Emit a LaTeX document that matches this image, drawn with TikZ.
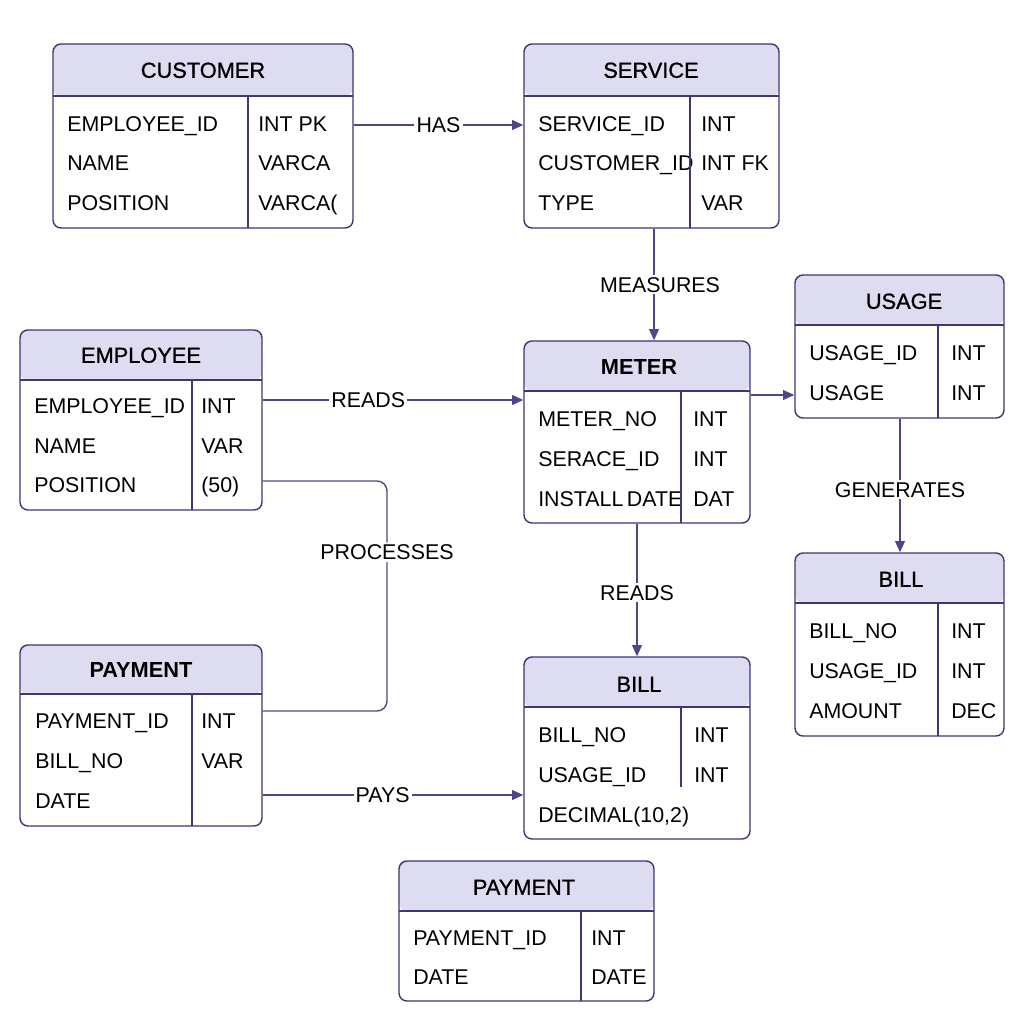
\documentclass[tikz,border=0pt]{standalone}
\usepackage{fontspec}
\setmainfont{Liberation Sans}
\newfontfamily\titlefont{Liberation Sans}[FakeBold=1.0]
\usetikzlibrary{
arrows.meta,
fit,
positioning
}
\definecolor{erline}{HTML}{3E3772}
\definecolor{erhead}{HTML}{DEDCF1}
\definecolor{erconn}{HTML}{4E4787}
\tikzset{
er_text/.style={inner sep=0pt, text height=10.9pt, text depth=0pt, font=\fontsize{15.2}{18}\selectfont},
er_field/.style={er_text, anchor=west}
}

\begin{document}
\begin{tikzpicture}
[x=0.025cm, y=-0.025cm,
table_box/.style={draw=erline, line width=1pt, fill=white, rounded corners=0.2cm, inner sep=0pt,
  path picture={\fill[erhead] (path picture bounding box.north west) rectangle ([yshift=-#1]path picture bounding box.north east);}},
table_line/.style={draw=erline, line width=1pt},
er_title/.style={inner sep=0pt, text height=11.1pt, text depth=0pt, font=\titlefont\fontsize{15.5}{18}\selectfont},
er_title_bold/.style={er_title, font=\bfseries\fontsize{15.5}{18}\selectfont},
line_rel/.style={draw=erconn, line width=1pt, -{Triangle[length=8pt, width=7pt]}},
line_plain/.style={draw=erconn, line width=1pt},
rel_label/.style={er_text, fill=white, inner sep=1.5pt}]

\useasboundingbox[fill=white] (0,0) rectangle (1024,1024);

%%%%% CUSTOMER %%%%%
\node[table_box=1.3cm, fit={(53,44) (353,228)}] (customer) {};
\draw[table_line] (53,96) -- (353,96);
\draw[table_line] (248,96) -- (248,228);
\node[er_title] (cust0) at (203,70) {CUSTOMER};
\node[er_field] (cust1) at (67,124) {EMPLOYEE\_ID};
\node[er_field] (cust2) at (67,163) {NAME};
\node[er_field] (cust3) at (67,203) {POSITION};
\node[er_field] (cust1t) at (258,124) {INT PK};
\node[er_field] (cust2t) at (258,163) {VARCA};
\node[er_field] (cust3t) at (258,203) {VARCA(};

%%%%% SERVICE %%%%%
\node[table_box=1.3cm, fit={(524,44) (779,228)}] (service) {};
\draw[table_line] (524,96) -- (779,96);
\node[er_title] (serv0) at (651,70) {SERVICE};
\node[er_field] (serv1) at (538,124) {SERVICE\_ID};
\node[er_field] (serv2) at (538,163) {CUSTOMER\_ID};
\node[er_field] (serv3) at (538,203) {TYPE};
\node[er_field] (serv1t) at (701,124) {INT};
\node[er_field] (serv2t) at (701,163) {INT FK};
\node[er_field] (serv3t) at (701,203) {VAR};
\draw[table_line] (690,96) -- (690,228);

%%%%% EMPLOYEE %%%%%
\node[table_box=1.25cm, fit={(20,330) (262,510)}] (employee) {};
\draw[table_line] (20,380) -- (262,380);
\draw[table_line] (192,380) -- (192,510);
\node[er_title] (emp0) at (141,355) {EMPLOYEE};
\node[er_field] (emp1) at (34,406) {EMPLOYEE\_ID};
\node[er_field] (emp2) at (34,446) {NAME};
\node[er_field] (emp3) at (34,485) {POSITION};
\node[er_field] (emp1t) at (201,406) {INT};
\node[er_field] (emp2t) at (201,446) {VAR};
\node[er_field] (emp3t) at (201,485) {(50)};

%%%%% METER %%%%%
\node[table_box=1.25cm, fit={(524,341) (750,523)}] (meter) {};
\draw[table_line] (524,391) -- (750,391);
\node[er_title_bold] (met0) at (639,367) {METER};
\node[er_field] (met1) at (538,419) {METER\_NO};
\node[er_field] (met2) at (538,459) {SERACE\_ID};
\node[er_field] (met3) at (538,499) {INSTALL\,DATE};
\node[er_field] (met1t) at (693,419) {INT};
\node[er_field] (met2t) at (693,459) {INT};
\node[er_field] (met3t) at (693,499) {DAT};
\draw[table_line] (681,391) -- (681,523);

%%%%% USAGE %%%%%
\node[table_box=1.25cm, fit={(795,275) (1004,418)}] (usage) {};
\draw[table_line] (795,325) -- (1004,325);
\draw[table_line] (938,325) -- (938,418);
\node[er_title] (use0) at (904,301) {USAGE};
\node[er_field] (use1) at (809,353) {USAGE\_ID};
\node[er_field] (use2) at (809,393) {USAGE};
\node[er_field] (use1t) at (951,353) {INT};
\node[er_field] (use2t) at (951,393) {INT};

%%%%% BILL (rechts) %%%%%
\node[table_box=1.25cm, fit={(795,553) (1004,736)}] (billu) {};
\draw[table_line] (795,603) -- (1004,603);
\draw[table_line] (938,603) -- (938,736);
\node[er_title] (billu0) at (901,579) {BILL};
\node[er_field] (billu1) at (809,631) {BILL\_NO};
\node[er_field] (billu2) at (809,671) {USAGE\_ID};
\node[er_field] (billu3) at (809,711) {AMOUNT};
\node[er_field] (billu1t) at (951,631) {INT};
\node[er_field] (billu2t) at (951,671) {INT};
\node[er_field] (billu3t) at (951,711) {DEC};

%%%%% PAYMENT (links) %%%%%
\node[table_box=1.23cm, fit={(20,645) (262,826)}] (payment) {};
\draw[table_line] (20,694) -- (262,694);
\draw[table_line] (192,694) -- (192,826);
\node[er_title_bold] (pay0) at (141,670) {PAYMENT};
\node[er_field] (pay1) at (35,721) {PAYMENT\_ID};
\node[er_field] (pay2) at (35,761) {BILL\_NO};
\node[er_field] (pay3) at (35,801) {DATE};
\node[er_field] (pay1t) at (201,721) {INT};
\node[er_field] (pay2t) at (201,761) {VAR};

%%%%% BILL (mitte) %%%%%
\node[table_box=1.25cm, fit={(524,657) (750,839)}] (billm) {};
\draw[table_line] (524,707) -- (750,707);
\draw[table_line] (681,707) -- (681,787);
\node[er_title] (billm0) at (639,684) {BILL};
\node[er_field] (billm1) at (538,735) {BILL\_NO};
\node[er_field] (billm2) at (538,775) {USAGE\_ID};
\node[er_field] (billm3) at (538,815) {DECIMAL(10,2)};
\node[er_field] (billm1t) at (694,735) {INT};
\node[er_field] (billm2t) at (694,775) {INT};

%%%%% PAYMENT (unten) %%%%%
\node[table_box=1.25cm, fit={(399,861) (654,1001)}] (paymentb) {};
\draw[table_line] (399,911) -- (654,911);
\draw[table_line] (581,911) -- (581,1001);
\node[er_title] (payb0) at (524,887) {PAYMENT};
\node[er_field] (payb1) at (413,938) {PAYMENT\_ID};
\node[er_field] (payb2) at (413,977) {DATE};
\node[er_field] (payb1t) at (591,938) {INT};
\node[er_field] (payb2t) at (591,977) {DATE};

%Pfeile Beziehungen
 \draw [line_rel] (customer.east |- 0,125) -- node [rel_label] {HAS} (service.west |- 0,125);
 \draw [line_rel] (service.south -| 654,0) -- node [rel_label, xshift=0.15cm] {MEASURES} (meter.north -| 654,0);
 \draw [line_rel] (employee.east |- 0,400) -- node [rel_label, pos=.405] {READS} (meter.west |- 0,400);
 \draw [line_rel] (meter.east |- 0,395) -- (usage.west |- 0,395);
 \draw [line_rel] (usage.south -| 900,0) -- node [rel_label, pos=.53] {GENERATES} (billu.north -| 900,0);
 \draw [line_rel] (meter.south -| 637,0) -- node [rel_label, pos=.52] {READS} (billm.north -| 637,0);
 \draw [line_plain, rounded corners=0.25cm] (employee.east |- 0,481) -- (387,481) -- node [rel_label, pos=.31] {PROCESSES} (387,711) -- (payment.east |- 0,711);
 \draw [line_rel] (payment.east |- 0,795) -- node [rel_label, pos=.46] {PAYS} (billm.west |- 0,795);

\end{tikzpicture}
\end{document}
